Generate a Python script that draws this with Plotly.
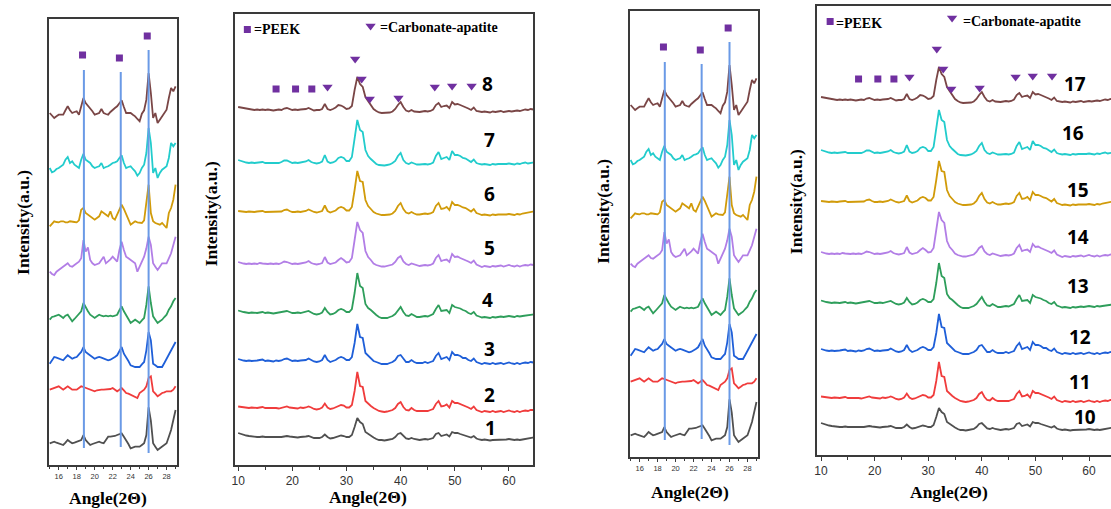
import plotly.graph_objects as go

W, H = 1111, 509

# ---------------- data ----------------
# diffraction angles (2-theta) for the full scans and for the 15-29 degree close-ups
angles_wide = [10 + 0.5 * i for i in range(111)]
angles_zoom = [15 + 0.25 * i for i in range(57)]

# full scans, intensity (a.u.) above each trace's own baseline; samples 1..8 (and 10..17)
wide_1 = [4, 3, 2, 1.5, 1, 0.5, 0.5, 0, 0, 0.5,
          0, 0, -0.5, 0, 0, -0.5, 0, 0.5, 1, 0.5,
          0, 0, -0.5, 0, 0, 0.5, 1, 0, -1, -1,
          -1, 0, 2.5, 0, -1.5, -1, 0, 1, 1.5, 1,
          0, 0, 2, 10, 19, 15, 13, 5, 3, 1.5,
          -0.5, -2, -3, -3, -3.5, -3, -2.5, -2, 0, 3,
          4, 1, -1.5, -2, -1, -2, -2.5, -3, -2.5, -2,
          -2.5, -2, -1, 3, 4, 1, 1.5, 2.5, 0.5, 5,
          4, 4, 3, 2, 1.5, 0.5, -0.5, 1, -1.5, -2.5,
          -3, -2.5, -3, -3.5, -3, -3, -2.5, -3, -3, -2.5,
          -2, -2.5, -3, -2.5, -3, -2.5, -2, -1.5, -1, -1,
          0]
wide_2 = [1.5, 1, 0.5, 0, 0, 0.5, 0, 0, 0.5, 1,
          0, 0, 0.5, 0, 0, -0.5, 0, 1, 1.5, 0.5,
          0, 0, -0.5, 0.5, 0, 0.5, 1.5, 0.5, -1, -1.5,
          -1, 0.5, 4.5, 0.5, -1, -0.5, 0.5, 2, 3, 2.5,
          0.5, 0.5, 3, 17, 36, 22, 21, 7, 4, 2,
          0, -1.5, -3, -3.5, -4, -3.5, -3, -2, 0, 4,
          6, 1, -2, -2.5, 0, -2, -3, -3, -3, -2.5,
          -3, -2, -1, 4, 7, 1.5, 2, 3.5, 0.5, 7,
          5, 5, 4, 2.5, 2, 0.5, -1, 1.5, -2, -3,
          -4, -3, -3.5, -4, -3, -4, -3.5, -3, -4, -3,
          -2.5, -3.5, -4, -3, -4, -3, -2.5, -3, -2, -2,
          -1.5]
wide_3 = [2, 1, 0.5, 0, 0.5, 0, 0, 0.5, 1, 1.5,
          0, 0.5, 0, -0.5, 0.5, 0, 0.5, 2, 2.5, 1,
          0, 0.5, 0, 0.5, 0.5, 1, 2.5, 1, -0.5, -1,
          -0.5, 1, 6, 1, -1, 0, 1, 3, 4, 3,
          1, 1, 4, 18, 37, 24, 23, 8, 5, 3,
          0, -1, -2, -3, -3, -3, -2, -1, 1, 5,
          6, 2, -1, -1, 1, -1, -2, -2, -2, -1,
          -2, -1, 0, 5, 8, 2, 3, 4, 1, 9,
          6, 6, 5, 3, 3, 1, 0, 2.5, -1, -2,
          -3, -2, -2.5, -3, -2, -3, -2.5, -2, -3, -2,
          -1.5, -2.5, -3, -2, -3, -2, -1.5, -2, -1, -1.5,
          -1]
wide_4 = [2.5, 1.5, 1, 0.5, 0, 0.5, 0, 0, 0.5, 1,
          0, 0.5, 0, -0.5, 0, 0.5, 0.5, 1.5, 2, 1,
          0, 0, 0.5, 0, 0.5, 1, 2, 0.5, -1, -1.5,
          -1, 0.5, 5, 1, -1.5, -1, 0.5, 3, 4, 3,
          1, 1, 4, 20, 40, 27, 25, 9, 5, 3,
          0, -2, -4, -5, -5, -5, -4, -3, -1, 3,
          6, 1, -2.5, -3, -1, -2.5, -4, -4, -3.5, -3,
          -3.5, -2.5, -1, 4, 8, 2, 2.5, 3, 0, 8,
          6, 5.5, 4.5, 3, 2, 0, -1, 1, -2.5, -3.5,
          -4.5, -4, -4.5, -5, -4, -4.5, -4, -3.5, -4, -3.5,
          -3, -3.5, -4, -3, -3.5, -3, -2.5, -2, -1.5, -1.5,
          -1]
wide_5 = [2, 1, 0.5, 0, 0.5, 0, 0.5, 0, 1, 0.5,
          0, 0, 0.5, 0, 0.5, 0, 1, 2.5, 2, 1,
          0, 0.5, 0, 0.5, 1, 1.5, 3, 1, 0, -0.5,
          0, 1, 7, 1.5, 0, 0.5, 1.5, 4, 6, 4,
          1.5, 2, 6, 24, 42, 34, 31, 13, 7, 4,
          0.5, -1, -2, -2.5, -2.5, -2, -1.5, -0.5, 2, 6,
          8, 2.5, 0, -1, 0.5, -0.5, -1.5, -2, -1.5, -1,
          -1.5, -1, 0.5, 6, 9, 3, 4, 4.5, 2, 10,
          7, 7.5, 6, 5, 4, 2.5, 1, 3.5, -0.5, -2,
          -3, -2, -2.5, -3, -2, -2.5, -2, -1.5, -2.5, -2,
          -1, -2, -2.5, -1.5, -2.5, -1.5, -1, -1.5, -0.5, -1,
          -0.5]
wide_6 = [1, 0.5, 0, 0, 0.5, 0, 0, 0.5, 0.5, 1,
          0, 0, 0.5, 0, 0, 0.5, 0.5, 2, 2.5, 1,
          0, 0, 0.5, 0, 0.5, 1, 2.5, 1, 0, -0.5,
          0, 1, 6.5, 1, -0.5, 0.5, 1.5, 4, 5, 4,
          1.5, 1.5, 5, 22, 41, 31, 30, 12, 6, 3,
          0, -1.5, -2.5, -3, -3, -3, -2.5, -1.5, 1, 6,
          9, 3, -0.5, -1.5, 0, -1.5, -2.5, -2.5, -2, -1.5,
          -2, -1.5, 0, 6, 9, 3, 3.5, 5, 2, 10,
          7, 7, 6, 4.5, 4, 2, 0.5, 3, -1, -2,
          -3, -2.5, -3, -3.5, -2.5, -3, -2.5, -2.5, -3, -2.5,
          -2, -2.5, -3, -2, -2.5, -1.5, -1, -0.5, 0, 0.5,
          1]
wide_7 = [3, 2, 1, 0.5, 0, 0.5, 0, 0.5, 0.5, 1,
          0, 0, 0.5, 0, 0.5, 0, 1, 2.5, 2.5, 1,
          0, 0.5, 0, 0.5, 1, 1.5, 3, 1, 0, -0.5,
          0, 1.5, 8, 1.5, 0, 0.5, 2, 5, 6, 5,
          2, 2, 6, 25, 43, 33, 31, 13, 7, 4,
          1, -1, -2, -2.5, -2.5, -2, -1.5, 0, 2, 7,
          10, 3, 0, -1, 0.5, -0.5, -1.5, -1.5, -1, -1,
          -1.5, -1, 0.5, 7, 11, 4, 5, 6, 3, 12,
          8, 8, 7, 5, 4.5, 3, 1, 3.5, 0, -1,
          -1.5, -1, -1.5, -2, -1, -1.5, -1, -1, -1.5, -1,
          -0.5, -1, -1.5, -0.5, -1, 0, 0.5, -0.5, 0, 0.5,
          1]
wide_8 = [3, 2.5, 1.5, 1, 1, 0.5, 0, 0.5, 0, 0.5,
          0, 0.5, 0, -0.5, 0, 0.5, 0, 1.5, 2, 1,
          0, 0.5, 0, 0.5, 0.5, 1, 2, 0.5, -0.5, 0,
          0, 1, 6, 1, 0, 1, 2.5, 5, 4.5, 3,
          1, 1.5, 4, 20, 33, 26, 23, 13, 9, 5,
          1, -1, -2.5, -3, -3, -3, -2.5, -1.5, 1, 5,
          8, 3, -0.5, -1.5, 0, -1.5, -2, -2, -1.5, -1,
          -1.5, -1, 0.5, 5, 7, 3, 4, 4.5, 2, 8,
          5.5, 6, 5, 4, 3, 1.5, 0, 2.5, -1, -1.5,
          -2, -1.5, -2, -2.5, -1.5, -2, -1.5, -1, -2, -1.5,
          -1, -1.5, -1, -0.5, -1, 0, 0.5, 0, 1, 0.5,
          1]

# close-up scans 15-29 degrees, intensity (a.u.) above each trace's baseline
zoom_1 = [6.7, 7.3, 8.3, 7.3, 6.7, 6, 5, 7.3, 10, 8.3,
          6.7, 7.3, 8.3, 9.3, 10, 15, 10, 7.3, 5, 6,
          6.7, 7.3, 8.3, 7.3, 6.7, 10, 13.3, 13.3, 13.3, 14,
          15, 16, 16.7, 13.3, 10, 6, 1.7, 2.7, 3.3, 3.3,
          3.3, 5, 6.7, 15, 42.7, 29.3, 6.7, 3.3, 0, 1.7,
          3.3, 5, 6.7, 13.3, 20, 30, 40]
zoom_2 = [8.3, 9, 10, 11, 11.7, 10, 8.3, 10, 11.7, 10,
          8.3, 8.3, 8.3, 10, 11.7, 11, 10, 9, 8.3, 7.7,
          6.7, 7.7, 8.3, 8.3, 8.3, 8.3, 8.3, 9, 10, 8.3,
          6.7, 8.3, 10, 7.7, 5, 4.3, 3.3, 2.3, 1.7, 0,
          5, 6.7, 8.3, 11.7, 20, 21.7, 6.7, 4.3, 1.7, 3.3,
          5, 5.7, 6.7, 6.7, 6.7, 8.3, 11.7]
zoom_3 = [3.3, 7.3, 10, 9.3, 8.3, 7.3, 6.7, 9.3, 11.7, 10,
          8.3, 9.3, 10, 12.7, 15, 20, 15, 13.3, 11.7, 10,
          8.3, 9.3, 10, 9.3, 8.3, 7.3, 6.7, 7.3, 8.3, 10,
          11.7, 16, 20, 13.3, 10, 6, 1.7, 0.7, 0, 0,
          0, 2.7, 5, 16.7, 35, 26.7, 3.3, 1.7, 0, 0,
          0, 4, 8.3, 12.7, 16.7, 20.7, 25]
zoom_4 = [3.3, 6, 6.7, 7.3, 8.3, 6.7, 5, 7.3, 8.3, 5,
          1.7, 4, 6.7, 8.3, 11.7, 20, 15, 11.7, 8.3, 6.7,
          5, 6.7, 8.3, 7.3, 6.7, 7.3, 6.7, 7.3, 6.7, 7.3,
          8.3, 12.7, 16.7, 11.7, 8.3, 4, 0, 1.7, 3.3, 1.7,
          0, 2.7, 5, 18.3, 36.7, 20, 6.7, 3.3, 0, 1.7,
          3.3, 6, 8.3, 13.3, 16.7, 21.7, 25]
zoom_5 = [3.3, 1, 0, 3.3, 5, 6.7, 8.3, 10, 11.7, 9,
          8.3, 10, 11.7, 13.3, 16.7, 35, 23.3, 27.7, 15, 11.7,
          10, 11, 11.7, 15, 18.3, 11.7, 13.3, 15.7, 18.3, 15.7,
          13.3, 25, 33.3, 25, 18.3, 16.7, 15, 13.3, 11.7, 3.3,
          8.3, 13.3, 18.3, 26.7, 38.3, 30, 11.7, 8.3, 5, 8.3,
          11.7, 11.7, 11.7, 16.7, 21.7, 30, 38.3]
zoom_6 = [1.7, 4.3, 6.7, 6, 5.7, 6.7, 6.7, 5.7, 5.7, 6.7,
          6.7, 6, 5.7, 7.7, 18.3, 20, 15, 13.3, 11.7, 10,
          8.3, 10, 11.7, 16.7, 15, 13.3, 11.7, 16.7, 10, 8.3,
          13.3, 19, 23.3, 19, 13.3, 8.3, 3.3, 5, 6.7, 5.7,
          5, 5, 7.7, 25, 43.3, 15, 6.7, 5, 4.3, 3.3,
          5, 2.3, 0, 15, 20, 28.3, 43.3]
zoom_7 = [10, 5.7, 6.7, 9, 10, 11.7, 13.3, 18.3, 21, 15,
          16.7, 13.3, 11.7, 10, 18.3, 24.3, 18.3, 16.7, 15, 11.7,
          10, 11, 11.7, 15, 10, 11, 11.7, 13.3, 15, 15.7,
          16.7, 20, 22.7, 15, 10, 11, 11.7, 9, 6.7, 2.3,
          5, 10, 13.3, 25, 50, 35, 5, 10, 0, 5,
          8.3, 10, 11.7, 20, 35, 31.7, 35]
zoom_8 = [10, 7.3, 5, 6.7, 8.3, 8.3, 8.3, 12.7, 16.7, 12.7,
          10, 11, 11.7, 8.3, 16.7, 25, 20, 17.3, 15, 11.7,
          8.3, 9.3, 10, 14, 10, 9, 8.3, 11, 13.3, 15,
          16.7, 20, 22.7, 16, 10, 10, 10, 8.3, 6.7, 4,
          1.7, 9.3, 12.7, 23.3, 50, 30, 5, 10, 0, 3.3,
          6.7, 10, 13.3, 25, 35, 31.7, 36.7]

wide_series = [wide_1, wide_2, wide_3, wide_4, wide_5, wide_6, wide_7, wide_8]
zoom_series = [zoom_1, zoom_2, zoom_3, zoom_4, zoom_5, zoom_6, zoom_7, zoom_8]
labels_left = ["1", "2", "3", "4", "5", "6", "7", "8"]
labels_right = ["10", "11", "12", "13", "14", "15", "16", "17"]

# reflection positions (2-theta)
peek_zoom = [18.8, 22.9, 26.0]
peek_wide = [17.0, 20.6, 23.6]
apatite_wide = [26.5, 31.6, 32.8, 34.3, 39.6, 46.3, 49.5, 53.1]

# ---------------- styling / layout constants ----------------
colors = ["#505050", "#f03c3c", "#1f5fd8", "#2e9e5b",
          "#b27ee6", "#d19b0a", "#22cccc", "#7a4646"]
wide_offsets = [28, 57, 104, 152, 201, 253, 302, 355]
zoom_offsets = [15, 67, 98, 142, 190, 237, 287, 342]
PURPLE = "#7030a0"
LINE_BLUE = "#6a9ae6"
FRAME = "#3a3a3a"

# panel boxes in pixels: (left, right), (top, bottom), x range
panels = {
    1: dict(x=(45, 174), y=(19, 465), xr=[14.9, 29.2], kind="zoom"),
    2: dict(x=(232, 531), y=(14, 465), xr=[9.45, 64.45], kind="wide"),
    3: dict(x=(628, 757), y=(11, 457), xr=[14.9, 29.2], kind="zoom"),
    4: dict(x=(816, 1111), y=(6, 455), xr=[9.26, 64.1], kind="wide"),
}


def paper(px, py):
    return px / W, 1 - py / H


fig = go.Figure()
layout = dict(width=W, height=H, margin=dict(l=0, r=0, t=0, b=0),
              autosize=False, showlegend=False,
              plot_bgcolor="white", paper_bgcolor="white")

for k, p in panels.items():
    sx = "" if k == 1 else str(k)
    xa, ya = "x" + sx, "y" + sx
    (l, r), (t, b) = p["x"], p["y"]
    h = b - t
    wide = p["kind"] == "wide"
    xaxis = dict(domain=[l / W, r / W], range=p["xr"], anchor=ya,
                 showline=True, linecolor=FRAME, linewidth=1.5, mirror=True,
                 showgrid=False, zeroline=False, ticks="outside",
                 tickcolor=FRAME,
                 ticklen=4 if wide else 3,
                 tickvals=[10, 20, 30, 40, 50, 60] if wide else [16, 18, 20, 22, 24, 26, 28],
                 minor=dict(dtick=5 if wide else 1, ticks="outside",
                            ticklen=3 if wide else 2, tickcolor=FRAME, showgrid=False),
                 tickfont=dict(family="Liberation Sans", size=12 if wide else 7.5,
                               color="#333333"))
    yaxis = dict(domain=[1 - b / H, 1 - t / H], range=[0, h], anchor=xa,
                 showline=True, linecolor=FRAME, linewidth=1.5,
                 mirror=(k != 4), showgrid=False, zeroline=False,
                 showticklabels=False, ticks="")
    layout["xaxis" + sx] = xaxis
    layout["yaxis" + sx] = yaxis

    if wide:
        for i, s in enumerate(wide_series):
            fig.add_trace(go.Scatter(x=angles_wide, y=[v + wide_offsets[i] for v in s],
                                     mode="lines", line=dict(color=colors[i], width=1.8),
                                     xaxis=xa, yaxis=ya))
        # phase markers above the top trace
        fig.add_trace(go.Scatter(x=peek_wide, y=[376] * len(peek_wide), mode="markers",
                                 marker=dict(symbol="square", size=7, color=PURPLE),
                                 xaxis=xa, yaxis=ya))
        fig.add_trace(go.Scatter(x=apatite_wide, y=[378, 406, 386, 366, 367, 378, 379, 379],
                                 mode="markers",
                                 marker=dict(symbol="triangle-down", size=9, color=PURPLE),
                                 xaxis=xa, yaxis=ya))
        # key symbols
        fig.add_trace(go.Scatter(x=[11.7], y=[h - 15.5], mode="markers",
                                 marker=dict(symbol="square", size=7, color=PURPLE),
                                 xaxis=xa, yaxis=ya))
        fig.add_trace(go.Scatter(x=[34.45], y=[h - 12], mode="markers",
                                 marker=dict(symbol="triangle-down", size=9, color=PURPLE),
                                 xaxis=xa, yaxis=ya))
    else:
        for i, s in enumerate(zoom_series):
            fig.add_trace(go.Scatter(x=angles_zoom, y=[v + zoom_offsets[i] for v in s],
                                     mode="lines", line=dict(color=colors[i], width=1.8),
                                     xaxis=xa, yaxis=ya))
        for j, pk in enumerate(peek_zoom):
            top = [395, 393, 415][j]
            bot = [17, 18, 12][j]
            fig.add_shape(type="line", x0=pk, x1=pk, y0=bot, y1=top, xref=xa, yref=ya,
                          line=dict(color=LINE_BLUE, width=2), layer="above")
        fig.add_trace(go.Scatter(x=[pk - 0.15 for pk in peek_zoom], y=[410, 407, 429],
                                 mode="markers",
                                 marker=dict(symbol="square", size=7, color=PURPLE),
                                 xaxis=xa, yaxis=ya))

fig.update_layout(**layout)

ann = []
serif = "Liberation Serif"


def text(px, py, s, size, family=serif, angle=0, xanchor="center", color="black"):
    x, y = paper(px, py)
    ann.append(dict(x=x, y=y, xref="paper", yref="paper", text=s, showarrow=False,
                    textangle=angle, xanchor=xanchor, yanchor="middle",
                    font=dict(family=family, size=size, color=color)))


# axis titles
for px, py in [(19, 222), (208, 214), (601, 211), (795, 202)]:
    text(px, py, "<b>Intensity(a.u.)</b>", 17.5, angle=-90)
for px, py in [(104, 498), (365, 497), (688, 492), (948, 492)]:
    text(px, py, "<b>Angle(2Θ)</b>", 17.5)

# phase keys
text(249, 30, "<b>=PEEK</b>", 14, xanchor="left")
text(375, 28, "<b>=Carbonate-apatite</b>", 14, xanchor="left")
text(833, 23, "<b>=PEEK</b>", 14, xanchor="left")
text(960, 21, "<b>=Carbonate-apatite</b>", 14, xanchor="left")

# sample numbers
left_pos = [(488, 428), (487, 395), (487, 349), (485, 300),
            (487, 248), (487, 194), (487, 140), (485, 84)]
right_pos = [(1085, 417), (1080, 382), (1080, 337), (1078, 286),
             (1078, 237), (1078, 190), (1073, 133), (1075, 84)]
for (px, py), s in zip(left_pos, labels_left):
    text(px, py, "<b>" + s + "</b>", 19, family="Open Sans")
for (px, py), s in zip(right_pos, labels_right):
    text(px, py, "<b>" + s + "</b>", 19, family="Open Sans")

fig.update_layout(annotations=ann)
fig.write_html("out.html")
